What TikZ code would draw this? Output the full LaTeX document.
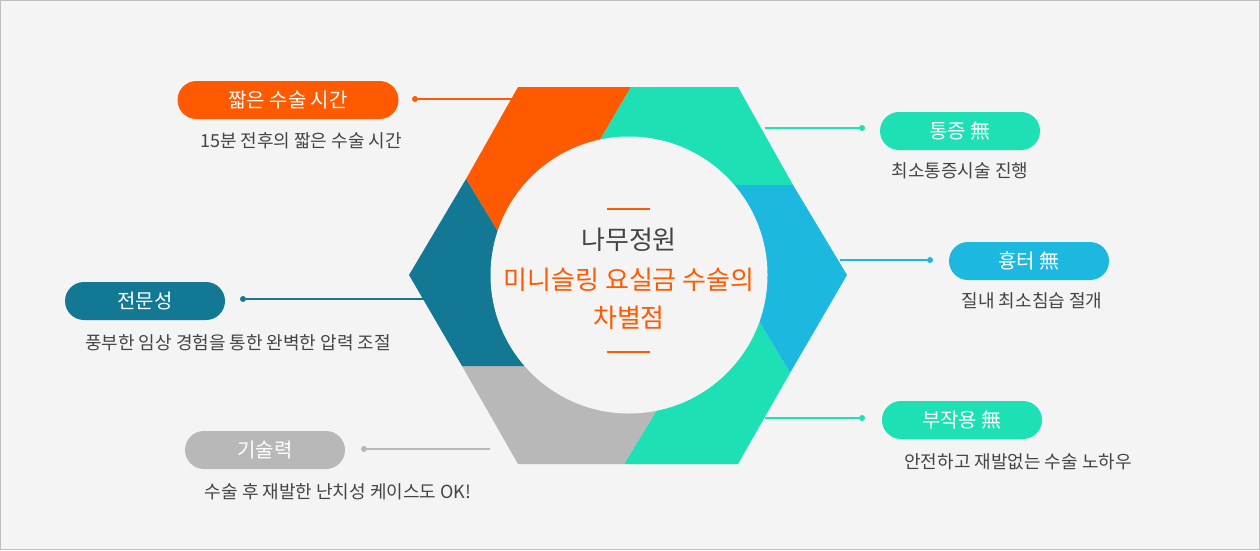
\documentclass[tikz,border=0pt]{standalone}
\usepackage{fontspec}
\setmainfont{Noto Sans CJK KR}
\usetikzlibrary{positioning}
\definecolor{hexorange}{HTML}{FF5A00}
\definecolor{hexteal}{HTML}{1DE0B4}
\definecolor{hexblue}{HTML}{1CB8E0}
\definecolor{hexdark}{HTML}{137894}
\definecolor{hexgrey}{HTML}{B8B8B8}
\definecolor{bgray}{HTML}{F4F4F4}
\definecolor{txtgray}{HTML}{444444}
\tikzset{
  pill/.style={rounded corners=19pt, minimum width=160pt, minimum height=38pt, text=white, font=\fontsize{20}{24}\selectfont, inner sep=0pt},
  subtext/.style={text=txtgray, font=\fontsize{18}{22}\selectfont},
  dot/.style={circle, fill=#1, inner sep=0pt, minimum size=6pt},
  link/.style={line width=2pt, draw=#1},
  centertext/.style={font=\fontsize{26}{30}\selectfont}
}
\begin{document}
\begin{tikzpicture}[x=1pt,y=-1pt]
	% fond
	\fill[bgray] (0,0) rectangle (1260,550);
	\draw[black!25] (0.5,0.5) rectangle (1259.5,549.5);
	% hexagone
	\coordinate (O) at (629,275);
	\coordinate (p1) at (569,193);
	\coordinate (p2) at (640,185);
	\coordinate (p3) at (730,273);
	\coordinate (p4) at (686,362);
	\coordinate (p5) at (560,366);
	\coordinate (p6) at (514,258);
	\fill[hexorange] (518,87) -- (631,87) -- (p1) -- (O) -- (p6) -- (466,179) -- cycle;
	\fill[hexteal] (631,87) -- (738,87) -- (793,185) -- (p2) -- (O) -- (p1) -- cycle;
	\fill[hexblue] (793,185) -- (847,275) -- (790,373) -- (p3) -- (O) -- (p2) -- cycle;
	\fill[hexteal] (790,373) -- (738,464) -- (624,464) -- (p4) -- (O) -- (p3) -- cycle;
	\fill[hexgrey] (624,464) -- (518,464) -- (462,366) -- (p5) -- (O) -- (p4) -- cycle;
	\fill[hexdark] (462,366) -- (409,275) -- (466,179) -- (p6) -- (O) -- (p5) -- cycle;
	\fill[bgray] (O) circle (138.5);
	% centre
	\draw[hexorange, line width=2pt] (607,209) -- (650,209);
	\draw[hexorange, line width=2pt] (607,352) -- (650,352);
	\node[text=txtgray, centertext] (title) at (629,240) {나무정원};
	\node[text=hexorange, centertext] (sub1) at (629,280) {미니슬링 요실금 수술의};
	\node[text=hexorange, centertext] (sub2) at (629,318) {차별점};
	% etiquettes gauche
	\node[pill, fill=hexorange, minimum width=221pt] (short) at (288,100) {짧은 수술 시간};
	\node[subtext] (shortt) at (301,141) {15분 전후의 짧은 수술 시간};
	\node[dot=hexorange] (shortd) at (415,99) {};
	\coordinate (shorte) at (512,99);
	\draw[link=hexorange] (shortd) -- (shorte);
	\node[pill, fill=hexdark] (expert) at (145,301) {전문성};
	\node[subtext] (expertt) at (238,343) {풍부한 임상 경험을 통한 완벽한 압력 조절};
	\node[dot=hexdark] (expertd) at (243,299) {};
	\coordinate (experte) at (425,299);
	\draw[link=hexdark] (expertd) -- (experte);
	\node[pill, fill=hexgrey] (skill) at (265,450) {기술력};
	\node[subtext] (skillt) at (338,492) {수술 후 재발한 난치성 케이스도 OK!};
	\node[dot=hexgrey] (skilld) at (364,449) {};
	\coordinate (skille) at (490,449);
	\draw[link=hexgrey] (skilld) -- (skille);
	% etiquettes droite
	\node[pill, fill=hexteal] (pain) at (960,131) {통증 無};
	\node[subtext] (paint) at (960,171) {최소통증시술 진행};
	\node[dot=hexteal] (paind) at (862,128) {};
	\coordinate (paine) at (765,128);
	\draw[link=hexteal] (paind) -- (paine);
	\node[pill, fill=hexblue] (scar) at (1029,261) {흉터 無};
	\node[subtext] (scart) at (1032,301) {질내 최소침습 절개};
	\node[dot=hexblue] (scard) at (930,260) {};
	\coordinate (scare) at (840,260);
	\draw[link=hexblue] (scard) -- (scare);
	\node[pill, fill=hexteal] (side) at (962,420) {부작용 無};
	\node[subtext] (sidet) at (1018,462) {안전하고 재발없는 수술 노하우};
	\node[dot=hexteal] (sided) at (862,418) {};
	\coordinate (sidee) at (765,418);
	\draw[link=hexteal] (sided) -- (sidee);
\end{tikzpicture}
\end{document}
